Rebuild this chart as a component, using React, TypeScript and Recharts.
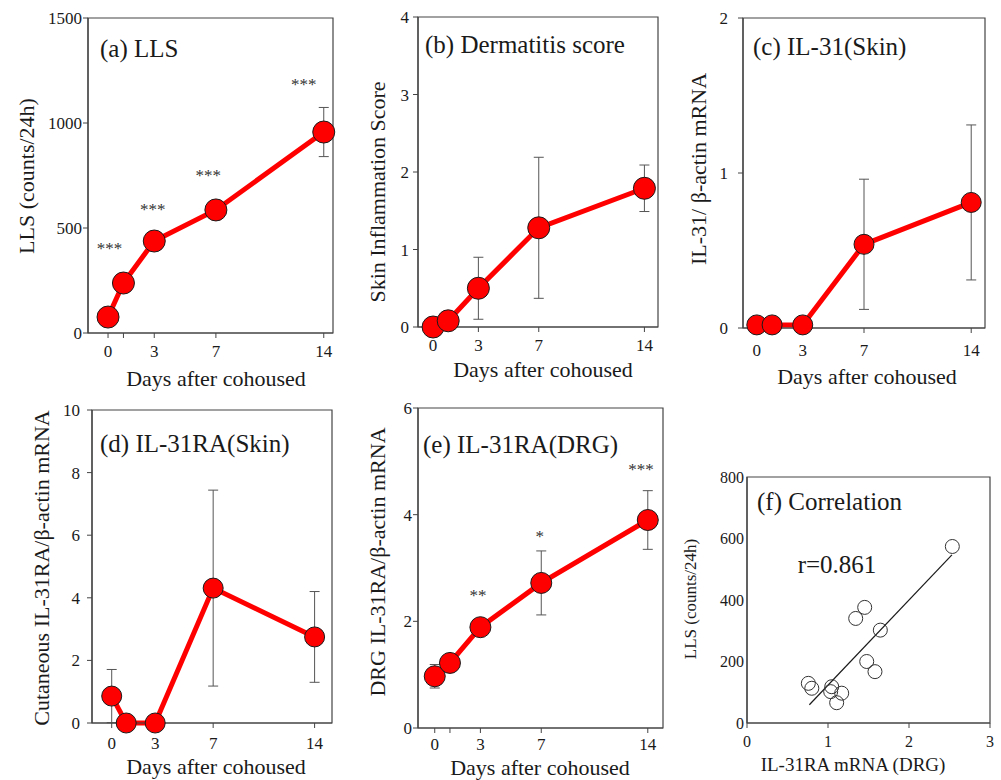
import React from 'react';
import {
  LineChart,
  Line,
  ScatterChart,
  Scatter,
  XAxis,
  YAxis,
  ErrorBar,
  ReferenceArea,
  ReferenceDot,
  ReferenceLine,
  Label,
} from 'recharts';

// days after cohousing
const days = [0, 1, 3, 7, 14];

// (a) LLS counts/24h
const llsMean = [76, 238, 438, 586, 957];
const llsSem = [0, 0, 0, 0, 117];
const llsStarDays = [0.1, 2.9, 6.5, 12.7];
const llsStarLevels = [405, 590, 752, 1185];
const llsStarText = ['***', '***', '***', '***'];

// (b) dermatitis score
const dermMean = [0, 0.08, 0.5, 1.28, 1.79];
const dermSem = [0, 0, 0.4, 0.91, 0.3];

// (c) IL-31 skin
const il31Mean = [0.02, 0.02, 0.02, 0.54, 0.81];
const il31Sem = [0, 0, 0, 0.42, 0.5];

// (d) IL-31RA skin
const raSkinMean = [0.86, 0, 0, 4.31, 2.75];
const raSkinSem = [0.85, 0, 0, 3.13, 1.45];

// (e) IL-31RA DRG
const raDrgMean = [0.97, 1.22, 1.89, 2.72, 3.9];
const raDrgSem = [0.22, 0, 0, 0.6, 0.55];
const drgStarDays = [2.85, 6.9, 13.55];
const drgStarLevels = [2.5, 3.6, 4.85];
const drgStarText = ['**', '*', '***'];

// (f) correlation
const corrMrna = [2.535, 1.453, 1.342, 1.646, 1.478, 1.58, 0.757, 0.8, 1.046, 1.033, 1.169, 1.107];
const corrLls = [574, 376, 340, 302, 200, 167, 129, 113, 118, 102, 97, 66];
const fitSlope = 277;
const fitIntercept = -154;
const fitRange = [0.77, 2.53];

const AXIS_W = 80;
const TOP_M = 20;
const RIGHT_M = 12;
const X_H = 62;
const INK = '#1a1a1a';
const FRAME = '#444';

const seriesRows = (mean: number[], sem: number[]) =>
  days.map((d, i) => ({ day: d, v: mean[i], err: sem[i] }));

type PanelCfg = {
  box: [number, number, number, number];
  xDomain: [number, number];
  xTicks: number[];
  yDomain: [number, number];
  yTicks: number[];
  title: string;
  titleAt: [number, number];
  yLabel: string;
  yLabelAt: [number, number];
  yLabelSize: number;
  xLabel: string;
  xLabelAt: [number, number];
  xLabelSize: number;
  yTickMargin: number;
  xTickMargin: number;
  tickSize: number;
};

function frame(cfg: PanelCfg) {
  const [bx0, by0, bx1, by1] = cfg.box;
  return {
    left: bx0 - AXIS_W,
    top: by0 - TOP_M,
    width: AXIS_W + (bx1 - bx0) + RIGHT_M,
    height: TOP_M + (by1 - by0) + X_H,
  };
}

function axes(cfg: PanelCfg, f: { left: number }, scatter = false) {
  const [bx0, by0, , by1] = cfg.box;
  return [
    <XAxis
      key="x"
      type="number"
      dataKey={scatter ? 'x' : 'day'}
      domain={cfg.xDomain}
      ticks={cfg.xTicks}
      interval={0}
      height={X_H}
      tickSize={5}
      tickMargin={cfg.xTickMargin}
      tickFormatter={(t: number) => (t === 1 && !scatter ? '' : String(t))}
      tick={{ fontSize: cfg.tickSize, fill: INK }}
      axisLine={{ stroke: FRAME, strokeWidth: 1.2 }}
      tickLine={{ stroke: FRAME }}
    >
      <Label
        value={cfg.xLabel}
        position={{ x: cfg.xLabelAt[0] - bx0, y: cfg.xLabelAt[1] - by1 }}
        fontSize={cfg.xLabelSize}
        fill={INK}
        style={{ textAnchor: 'middle' }}
      />
    </XAxis>,
    <YAxis
      key="y"
      type="number"
      dataKey={scatter ? 'y' : 'v'}
      domain={cfg.yDomain}
      ticks={cfg.yTicks}
      interval={0}
      width={AXIS_W}
      tickSize={scatter ? 0 : 5}
      tickMargin={cfg.yTickMargin}
      tick={{ fontSize: cfg.tickSize, fill: INK }}
      axisLine={{ stroke: FRAME, strokeWidth: 1.2 }}
      tickLine={{ stroke: FRAME }}
    >
      <Label
        value={cfg.yLabel}
        angle={-90}
        position={{ x: cfg.yLabelAt[0] + 0.34 * cfg.yLabelSize - f.left, y: cfg.yLabelAt[1] - by0 }}
        fontSize={cfg.yLabelSize}
        fill={INK}
        style={{ textAnchor: 'middle' }}
      />
    </YAxis>,
  ];
}

function boxArea(cfg: PanelCfg, extra?: React.ReactNode) {
  const [bx0, by0] = cfg.box;
  return (
    <ReferenceArea
      x1={cfg.xDomain[0]}
      x2={cfg.xDomain[1]}
      y1={cfg.yDomain[0]}
      y2={cfg.yDomain[1]}
      fill="none"
      fillOpacity={0}
      stroke={FRAME}
      strokeWidth={1.2}
      ifOverflow="visible"
    >
      <Label
        value={cfg.title}
        position={{ x: cfg.titleAt[0] - bx0, y: cfg.titleAt[1] - by0 }}
        fontSize={25}
        fill={INK}
        style={{ textAnchor: 'start' }}
      />
      {extra}
    </ReferenceArea>
  );
}

type TimeProps = {
  cfg: PanelCfg;
  mean: number[];
  sem: number[];
  dotR: number;
  starDays?: number[];
  starLevels?: number[];
  starText?: string[];
};

function TimeCourse({ cfg, mean, sem, dotR, starDays = [], starLevels = [], starText = [] }: TimeProps) {
  const f = frame(cfg);
  const rows = seriesRows(mean, sem);
  return (
    <div style={{ position: 'absolute', left: f.left, top: f.top }}>
      <LineChart
        width={f.width}
        height={f.height}
        data={rows}
        margin={{ top: TOP_M, right: RIGHT_M, left: 0, bottom: 0 }}
      >
        {boxArea(cfg)}
        {axes(cfg, f)}
        <Line
          type="linear"
          dataKey="v"
          stroke="#ff0000"
          strokeWidth={5}
          dot={{ r: dotR, fill: '#ff0000', stroke: INK, strokeWidth: 1, fillOpacity: 1 }}
          activeDot={false}
          isAnimationActive={false}
        >
          <ErrorBar dataKey="err" direction="y" width={5} stroke="#555" strokeWidth={1} />
        </Line>
        {starDays.map((d, i) => (
          <ReferenceDot
            key={i}
            x={d}
            y={starLevels[i]}
            r={0}
            fill="none"
            stroke="none"
            ifOverflow="visible"
            label={{ value: starText[i], position: 'center', fontSize: 17, fill: '#333' }}
          />
        ))}
      </LineChart>
    </div>
  );
}

const panelA: PanelCfg = {
  box: [88, 18, 333, 333],
  xDomain: [-1.3, 14.6],
  xTicks: [0, 1, 3, 7, 14],
  yDomain: [0, 1500],
  yTicks: [0, 500, 1000, 1500],
  title: '(a) LLS',
  titleAt: [100, 57],
  yLabel: 'LLS (counts/24h)',
  yLabelAt: [27, 176],
  yLabelSize: 22,
  xLabel: 'Days after cohoused',
  xLabelAt: [216, 386],
  xLabelSize: 22,
  yTickMargin: 1,
  xTickMargin: 7,
  tickSize: 17,
};

const panelB: PanelCfg = {
  box: [418, 17, 658, 327],
  xDomain: [-1, 14.9],
  xTicks: [0, 3, 7, 14],
  yDomain: [0, 4],
  yTicks: [0, 1, 2, 3, 4],
  title: '(b) Dermatitis score',
  titleAt: [425, 53],
  yLabel: 'Skin Inflammation Score',
  yLabelAt: [378, 192],
  yLabelSize: 22,
  xLabel: 'Days after cohoused',
  xLabelAt: [543, 377],
  xLabelSize: 22,
  yTickMargin: 4,
  xTickMargin: 7,
  tickSize: 17,
};

const panelC: PanelCfg = {
  box: [743, 18, 985, 328],
  xDomain: [-0.9, 14.9],
  xTicks: [0, 3, 7, 14],
  yDomain: [0, 2],
  yTicks: [0, 1, 2],
  title: '(c) IL-31(Skin)',
  titleAt: [753, 55],
  yLabel: 'IL-31/ β-actin mRNA',
  yLabelAt: [699, 169],
  yLabelSize: 22,
  xLabel: 'Days after cohoused',
  xLabelAt: [867, 384],
  xLabelSize: 22,
  yTickMargin: 10,
  xTickMargin: 11,
  tickSize: 17,
};

const panelD: PanelCfg = {
  box: [92, 410, 332, 723],
  xDomain: [-1.36, 15.2],
  xTicks: [0, 3, 7, 14],
  yDomain: [0, 10],
  yTicks: [0, 2, 4, 6, 8, 10],
  title: '(d) IL-31RA(Skin)',
  titleAt: [100, 452],
  yLabel: 'Cutaneous IL-31RA/β-actin mRNA',
  yLabelAt: [42, 568],
  yLabelSize: 22,
  xLabel: 'Days after cohoused',
  xLabelAt: [216, 774],
  xLabelSize: 22,
  yTickMargin: 7,
  xTickMargin: 9,
  tickSize: 17,
};

const panelE: PanelCfg = {
  box: [418, 408, 663, 728],
  xDomain: [-1.1, 15],
  xTicks: [0, 1, 3, 7, 14],
  yDomain: [0, 6],
  yTicks: [0, 2, 4, 6],
  title: '(e) IL-31RA(DRG)',
  titleAt: [423, 453],
  yLabel: 'DRG IL-31RA/β-actin mRNA',
  yLabelAt: [378, 562],
  yLabelSize: 22,
  xLabel: 'Days after cohoused',
  xLabelAt: [540, 775],
  xLabelSize: 22,
  yTickMargin: 1,
  xTickMargin: 5,
  tickSize: 17,
};

const panelF: PanelCfg = {
  box: [747, 477, 990, 723],
  xDomain: [0, 3],
  xTicks: [0, 1, 2, 3],
  yDomain: [0, 800],
  yTicks: [0, 200, 400, 600, 800],
  title: '(f) Correlation',
  titleAt: [757, 510],
  yLabel: 'LLS (counts/24h)',
  yLabelAt: [690, 599],
  yLabelSize: 17,
  xLabel: 'IL-31RA mRNA (DRG)',
  xLabelAt: [853, 771],
  xLabelSize: 19,
  yTickMargin: 3,
  xTickMargin: 8,
  tickSize: 16,
};

function Correlation() {
  const cfg = panelF;
  const f = frame(cfg);
  const pts = corrMrna.map((x, i) => ({ x, y: corrLls[i] }));
  const [bx0, by0] = cfg.box;
  const rText = (
    <Label
      value="r=0.861"
      position={{ x: 837 - bx0, y: 573 - by0 }}
      fontSize={25}
      fill={INK}
      style={{ textAnchor: 'middle' }}
    />
  );
  return (
    <div style={{ position: 'absolute', left: f.left, top: f.top }}>
      <ScatterChart
        width={f.width}
        height={f.height}
        margin={{ top: TOP_M, right: RIGHT_M, left: 0, bottom: 0 }}
      >
        {boxArea(cfg, rText)}
        {axes(cfg, f, true)}
        <ReferenceLine
          segment={[
            { x: fitRange[0], y: fitSlope * fitRange[0] + fitIntercept },
            { x: fitRange[1], y: fitSlope * fitRange[1] + fitIntercept },
          ]}
          stroke={INK}
          strokeWidth={1.2}
          ifOverflow="visible"
        />
        <Scatter
          data={pts}
          isAnimationActive={false}
          shape={(p: any) => (
            <circle cx={p.cx} cy={p.cy} r={7} fill="none" stroke="#333" strokeWidth={1} />
          )}
        />
      </ScatterChart>
    </div>
  );
}

export default function App() {
  return (
    <div
      style={{
        position: 'absolute',
        left: 0,
        top: 0,
        width: 1001,
        height: 780,
        overflow: 'hidden',
        background: '#fff',
        fontFamily: '"Liberation Serif", "Times New Roman", serif',
      }}
    >
      <TimeCourse
        cfg={panelA}
        mean={llsMean}
        sem={llsSem}
        dotR={11}
        starDays={llsStarDays}
        starLevels={llsStarLevels}
        starText={llsStarText}
      />
      <TimeCourse cfg={panelB} mean={dermMean} sem={dermSem} dotR={11} />
      <TimeCourse cfg={panelC} mean={il31Mean} sem={il31Sem} dotR={10} />
      <TimeCourse cfg={panelD} mean={raSkinMean} sem={raSkinSem} dotR={10} />
      <TimeCourse
        cfg={panelE}
        mean={raDrgMean}
        sem={raDrgSem}
        dotR={10.5}
        starDays={drgStarDays}
        starLevels={drgStarLevels}
        starText={drgStarText}
      />
      <Correlation />
    </div>
  );
}
